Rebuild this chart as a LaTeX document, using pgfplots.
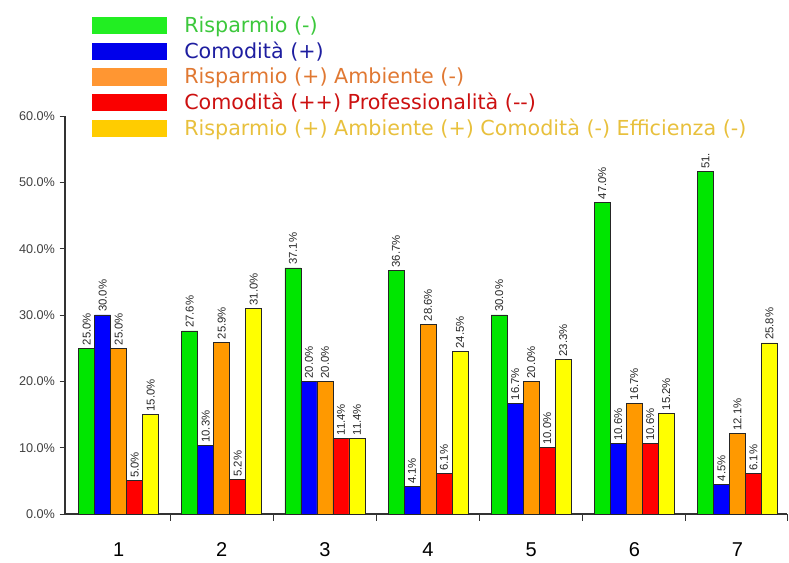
\documentclass[border=0pt]{standalone}
\usepackage{pgfplots}
\pgfplotsset{compat=1.18}
\usepackage{fontspec}
\setmainfont{Liberation Sans}
\newfontfamily\verd{DejaVu Sans}
\definecolor{bgreen}{RGB}{0,230,0}
\definecolor{bblue}{RGB}{0,0,255}
\definecolor{borange}{RGB}{255,153,0}
\definecolor{bred}{RGB}{255,0,0}
\definecolor{byellow}{RGB}{255,255,0}
\definecolor{lgreen}{RGB}{34,238,34}
\definecolor{lblue}{RGB}{0,0,235}
\definecolor{lorange}{RGB}{255,150,50}
\definecolor{lred}{RGB}{250,0,0}
\definecolor{lyellow}{RGB}{255,204,0}
\definecolor{tgreen}{RGB}{60,200,60}
\definecolor{tblue}{RGB}{30,30,160}
\definecolor{torange}{RGB}{224,120,50}
\definecolor{tred}{RGB}{204,16,16}
\definecolor{tyellow}{RGB}{232,192,60}
\begin{document}
\begin{tikzpicture}
\begin{axis}[
  scale only axis, width=541.5pt, height=298.5pt,
  xmin=0.48, xmax=7.48, ymin=0, ymax=60,
  ybar=0pt, bar width=12pt,
  axis x line*=bottom, axis y line*=left,
  axis line style={-, draw=black!80, line width=0.8pt},
  tick align=outside,
  xtick={1,...,7},
  every major x tick/.append style={draw=none},
  minor xtick={1.5,2.5,3.5,4.5,5.5,6.5,7.48},
  every minor x tick/.append style={draw=black!80, line width=0.7pt},
  minor tick length=5pt, major tick length=4pt,
  ytick={0,10,...,60},
  every major y tick/.append style={draw=black!80, line width=0.7pt},
  xticklabel style={font=\fontsize{15}{18}\selectfont, yshift=-14pt},
  yticklabel style={font=\fontsize{9.5}{11}\selectfont, text=black!75},
  yticklabel={\pgfmathprintnumber[fixed,fixed zerofill,precision=1,assume math mode=true]{\tick}\%},
  /pgf/number format/assume math mode=true,
  point meta=explicit symbolic,
  nodes near coords={\pgfplotspointmeta},
  nodes near coords style={rotate=90, anchor=west, font=\fontsize{8.5}{10}\selectfont, text=black!85, inner sep=2pt},
  legend style={at={(0,1)}, anchor=north west, xshift=20.25pt, yshift=76.5pt,
    draw=none, fill=none, inner sep=0pt,
    font=\verd\fontsize{15.5}{19}\selectfont,
    cells={anchor=west}, row sep=1.6pt},
  clip=false,
]
\addplot[fill=bgreen, draw=black!85, line width=0.5pt,
  legend image code/.code={\fill[lgreen, draw=none] (0pt,-6.5pt) rectangle (56pt,6.5pt);\path[draw=none, fill=none] (0pt,0pt) -- (67pt,0pt);}]
  coordinates {(1,25.0)[25.0\%] (2,27.6)[27.6\%] (3,37.1)[37.1\%] (4,36.7)[36.7\%] (5,30.0)[30.0\%] (6,47.0)[47.0\%] (7,51.6)[51.]};
\addlegendentry{\textcolor{tgreen}{Risparmio (-)}}
\addplot[fill=bblue, draw=black!85, line width=0.5pt,
  legend image code/.code={\fill[lblue, draw=none] (0pt,-6.5pt) rectangle (56pt,6.5pt);\path[draw=none, fill=none] (0pt,0pt) -- (67pt,0pt);}]
  coordinates {(1,30.0)[30.0\%] (2,10.3)[10.3\%] (3,20.0)[20.0\%] (4,4.1)[4.1\%] (5,16.7)[16.7\%] (6,10.6)[10.6\%] (7,4.5)[4.5\%]};
\addlegendentry{\textcolor{tblue}{Comodità (+)}}
\addplot[fill=borange, draw=black!85, line width=0.5pt,
  legend image code/.code={\fill[lorange, draw=none] (0pt,-6.5pt) rectangle (56pt,6.5pt);\path[draw=none, fill=none] (0pt,0pt) -- (67pt,0pt);}]
  coordinates {(1,25.0)[25.0\%] (2,25.9)[25.9\%] (3,20.0)[20.0\%] (4,28.6)[28.6\%] (5,20.0)[20.0\%] (6,16.7)[16.7\%] (7,12.1)[12.1\%]};
\addlegendentry{\textcolor{torange}{Risparmio (+) Ambiente (-)}}
\addplot[fill=bred, draw=black!85, line width=0.5pt,
  legend image code/.code={\fill[lred, draw=none] (0pt,-6.5pt) rectangle (56pt,6.5pt);\path[draw=none, fill=none] (0pt,0pt) -- (67pt,0pt);}]
  coordinates {(1,5.0)[5.0\%] (2,5.2)[5.2\%] (3,11.4)[11.4\%] (4,6.1)[6.1\%] (5,10.0)[10.0\%] (6,10.6)[10.6\%] (7,6.1)[6.1\%]};
\addlegendentry{\textcolor{tred}{Comodità (++) Professionalità (-{}-)}}
\addplot[fill=byellow, draw=black!85, line width=0.5pt,
  legend image code/.code={\fill[lyellow, draw=none] (0pt,-6.5pt) rectangle (56pt,6.5pt);\path[draw=none, fill=none] (0pt,0pt) -- (67pt,0pt);}]
  coordinates {(1,15.0)[15.0\%] (2,31.0)[31.0\%] (3,11.4)[11.4\%] (4,24.5)[24.5\%] (5,23.3)[23.3\%] (6,15.2)[15.2\%] (7,25.8)[25.8\%]};
\addlegendentry{\textcolor{tyellow}{Risparmio (+) Ambiente (+) Comodità (-) Efficienza (-)}}
\coordinate (O) at (rel axis cs:0,0);
\end{axis}
\pgfresetboundingbox
\path[use as bounding box] ([shift={(-48.75pt,-36.75pt)}]O) rectangle ++(591.75pt,422.25pt);
\end{tikzpicture}
\end{document}
